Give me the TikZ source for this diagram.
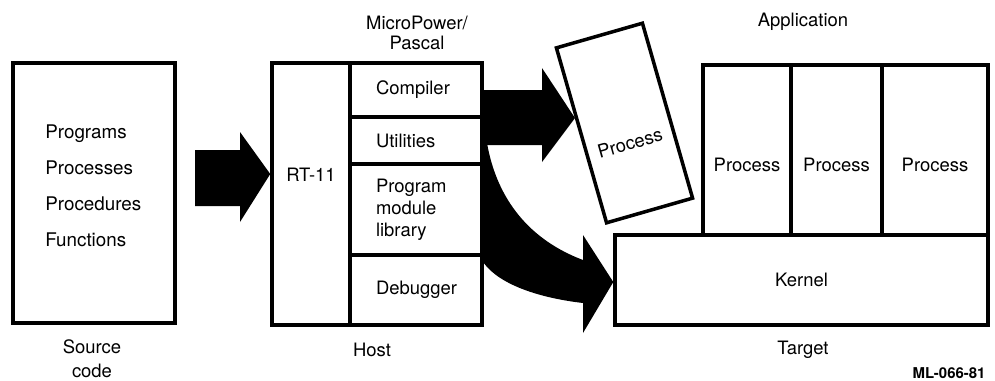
\documentclass[tikz,border=0pt]{standalone}
\usepackage{fontspec}
\setmainfont{TeX Gyre Heros}
\usetikzlibrary{shapes.geometric, arrows}
\tikzset{box/.style = {draw, line width=2pt, inner sep=0pt}}
\tikzset{cell/.style = {box, minimum width=2.64cm, text width=1.6cm, inner xsep=0.52cm, align=left}}

\begin{document}
\begin{tikzpicture}[x=0.02cm, y=-0.02cm, font=\fontsize{10.5}{12.5}\selectfont]
\useasboundingbox (0,0) rectangle (995,380);

% source code
\node[box, minimum width=3.24cm, minimum height=5.2cm] (src) at (94,193) {};
\node[anchor=west, align=left, inner sep=0pt, font=\fontsize{10.7}{20.5}\selectfont] (srclist) at (45,186) {Programs\\Processes\\Procedures\\Functions};
\node[align=center, inner sep=0pt, font=\fontsize{10.5}{13.5}\selectfont] (srclbl) at (92,359) {Source\\code};

% host
\node[box, minimum width=1.56cm, minimum height=5.24cm] (rt) at (311,194) {};
\node (rtlbl) at (311,175) {RT-11};
\node[cell, minimum height=1.08cm] (comp) at (416,90) {Compiler};
\node[cell, minimum height=0.94cm] (util) at (416,140.5) {Utilities};
\node[cell, minimum height=1.82cm] (lib) at (416,209.5) {Program\\module\\library};
\node[cell, minimum height=1.4cm] (dbg) at (416,290) {Debugger};
\node[align=center, font=\fontsize{10.5}{11.5}\selectfont] (mp) at (417,33) {MicroPower/\\Pascal};
\node (host) at (372,350) {Host};

% process being loaded
\node[box, rotate=16, minimum width=1.79cm, minimum height=3.64cm] (proc) at (624.5,123) {};
\node[rotate=16] (proctxt) at (630,143) {Process};

% target
\node[box, minimum width=7.46cm, minimum height=1.8cm] (kern) at (801.5,280) {Kernel};
\foreach \cx/\w/\i in {747/1.76/1, 836.5/1.82/2, 935/2.12/3} {
  \node[box, minimum width=\w cm, minimum height=3.4cm] (p\i) at (\cx,150) {};
  \node (pt\i) at (\cx,165) {Process};
}
\node (app) at (803,22) {Application};
\node (tgt) at (803,350) {Target};
\node[inner sep=0pt, font=\bfseries\fontsize{8.5}{10}\selectfont] (mlcode) at (949,373) {ML-066-81};

% big arrows
\fill (195,150) -- (240,150) -- (240,132) -- (rt.west |- 0,174) -- (240,222) -- (240,206) -- (195,206) -- cycle;
\fill (comp.east |- 0,90) -- (542,90) -- (542,68) -- (575,118) -- (542,162) -- (542,145) -- (comp.east |- 0,145) -- cycle;
\fill (util.east |- 0,143) -- (487,143) .. controls (497,200) and (530,240) .. (583,260)
  -- (583,235) -- (kern.west |- 0,282) -- (583,333) -- (583,303)
  .. controls (540,298) and (500,285) .. (dbg.east |- 0,263) -- cycle;

\end{tikzpicture}
\end{document}
